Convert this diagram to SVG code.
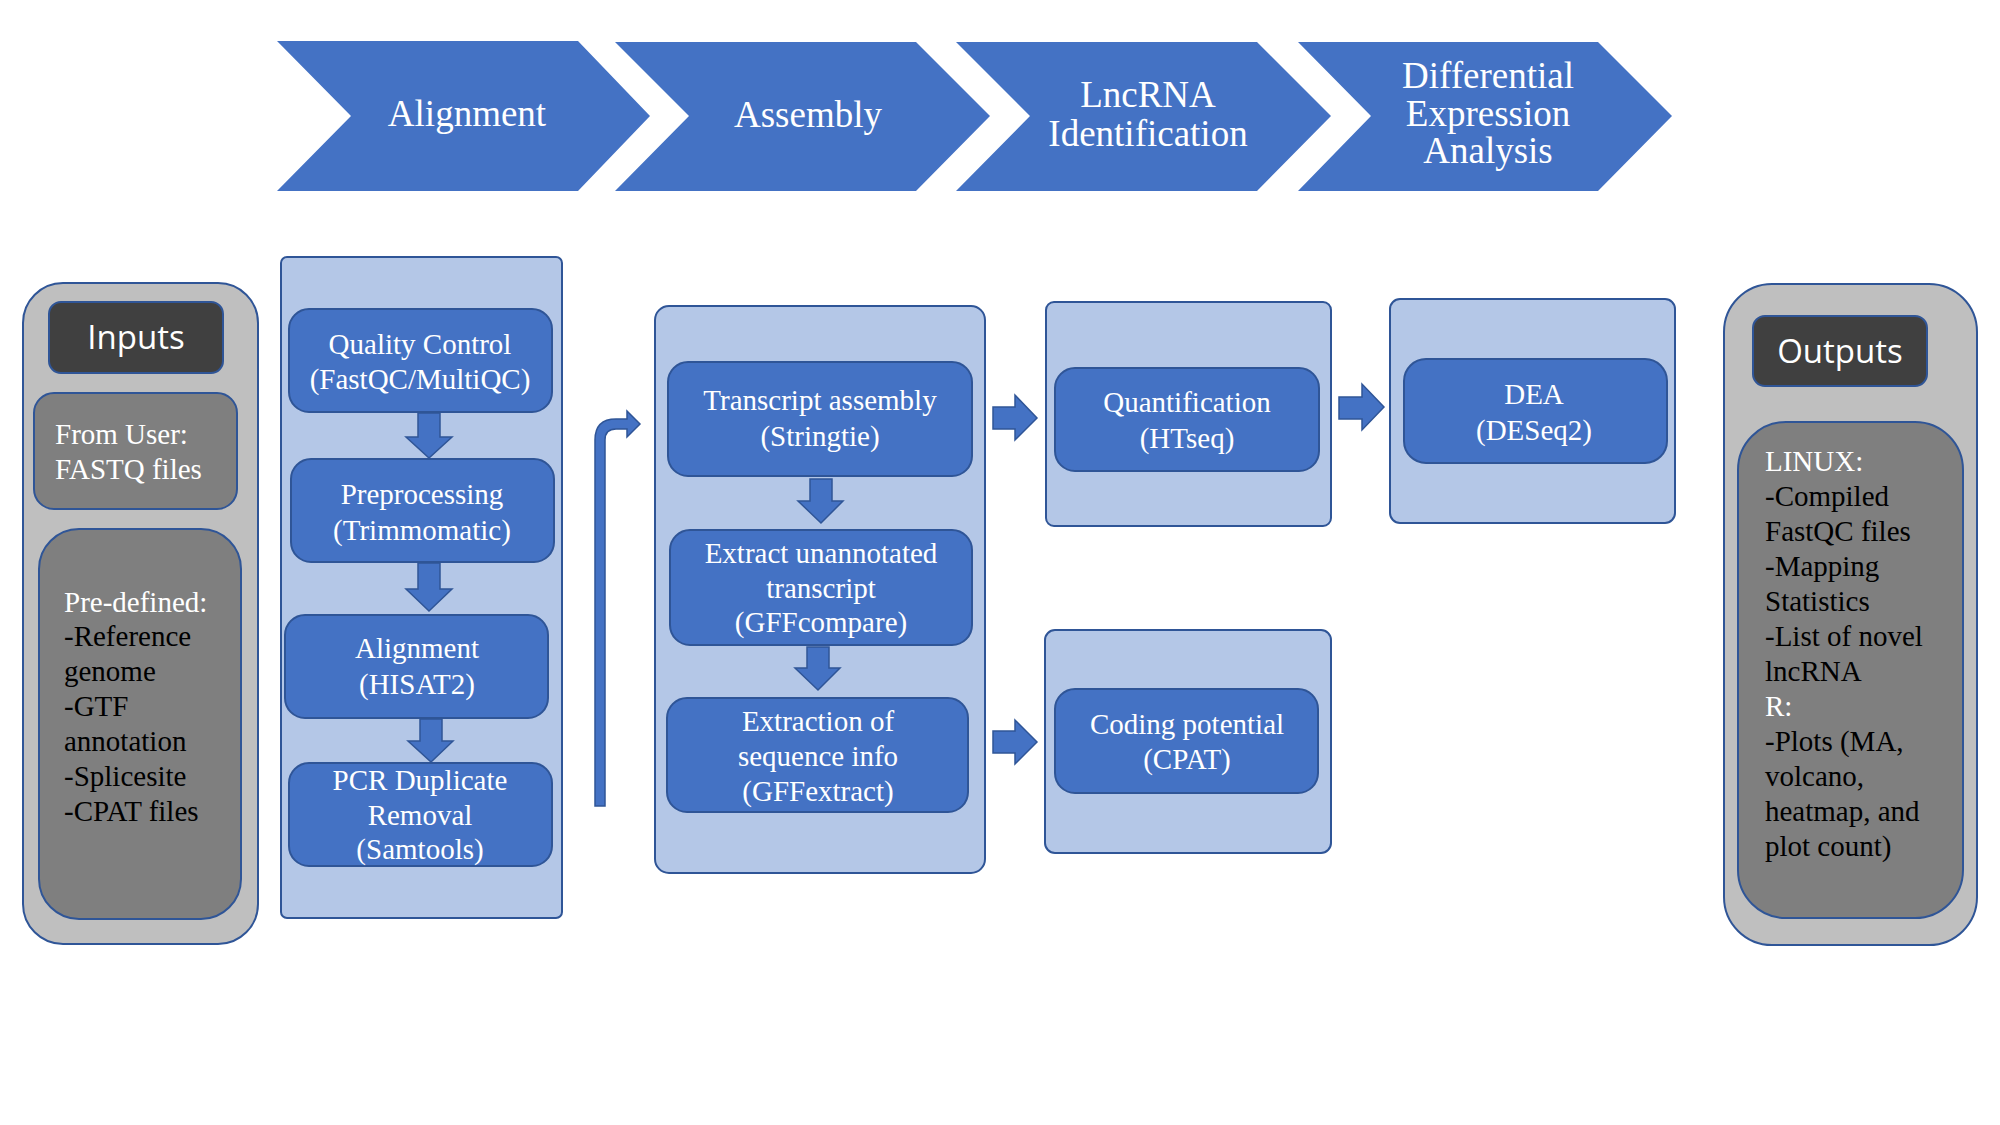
<svg xmlns="http://www.w3.org/2000/svg" width="2000" height="1125" viewBox="0 0 2000 1125">
<style>
.chev{fill:#4472C4;}
.ctext{font-family:"Liberation Serif","Times New Roman",serif;font-size:37px;fill:#fff;text-anchor:middle;}
.cont{fill:#B4C7E7;stroke:#2F5597;stroke-width:2;}
.box{fill:#4472C4;stroke:#2F5597;stroke-width:2;}
.btext{font-family:"Liberation Serif","Times New Roman",serif;font-size:29px;fill:#fff;text-anchor:middle;}
.outer{fill:#BFBFBF;stroke:#2F5597;stroke-width:2;}
.inner{fill:#7F7F7F;stroke:#2F5597;stroke-width:2;}
.head{fill:#404040;stroke:#2F5597;stroke-width:2;}
.htext{font-family:"Open Sans","Noto Sans",sans-serif;font-size:33px;fill:#fff;text-anchor:middle;}
.ltext{font-family:"Liberation Serif","Times New Roman",serif;font-size:29px;fill:#000;}
.w{fill:#fff;}
.arr{fill:#4472C4;stroke:#2F5597;stroke-width:1.5;}
</style>
<rect width="2000" height="1125" fill="#fff"/>
<g id="stage-alignment">
<polygon class="chev" points="277,41 578,41 650,116 578,191 277,191 351,116"/>
<text class="ctext" x="467" y="126">Alignment</text>
</g>
<g id="stage-assembly">
<polygon class="chev" points="615,42 916,42 990,116 916,191 615,191 689,116"/>
<text class="ctext" x="808" y="127">Assembly</text>
</g>
<g id="stage-lncrna">
<polygon class="chev" points="956,42 1257,42 1331,116 1257,191 956,191 1030,116"/>
<text class="ctext" x="1148" y="107">LncRNA</text>
<text class="ctext" x="1148" y="146">Identification</text>
</g>
<g id="stage-dea">
<polygon class="chev" points="1298,42 1598,42 1672,116 1598,191 1298,191 1371,116"/>
<text class="ctext" x="1488" y="88">Differential</text>
<text class="ctext" x="1488" y="126">Expression</text>
<text class="ctext" x="1488" y="163">Analysis</text>
</g>
<g id="inputs">
<rect class="outer" x="23" y="283" width="235" height="661" rx="40"/>
<rect class="head" x="49" y="302" width="174" height="71" rx="12"/>
<text class="htext" x="136" y="349">Inputs</text>
<rect class="inner" x="34" y="393" width="203" height="116" rx="20"/>
<text class="ltext w" x="55" y="444">From User:</text>
<text class="ltext w" x="55" y="479">FASTQ files</text>
<rect class="inner" x="39" y="529" width="202" height="390" rx="40"/>
<text class="ltext w" x="64" y="612">Pre-defined:</text>
<text class="ltext" x="64" y="646">-Reference</text>
<text class="ltext" x="64" y="681">genome</text>
<text class="ltext" x="64" y="716">-GTF</text>
<text class="ltext" x="64" y="751">annotation</text>
<text class="ltext" x="64" y="786">-Splicesite</text>
<text class="ltext" x="64" y="821">-CPAT files</text>
</g>
<g id="alignment-group">
<rect class="cont" x="281" y="257" width="281" height="661" rx="6"/>
</g>
<g id="qc">
<rect class="box" x="289" y="309" width="263" height="103" rx="20"/>
<text class="btext" x="420" y="354">Quality Control</text>
<text class="btext" x="420" y="389">(FastQC/MultiQC)</text>
</g>
<g id="preprocessing">
<rect class="box" x="291" y="459" width="263" height="103" rx="20"/>
<text class="btext" x="422" y="504">Preprocessing</text>
<text class="btext" x="422" y="540">(Trimmomatic)</text>
</g>
<g id="hisat">
<rect class="box" x="285" y="615" width="263" height="103" rx="20"/>
<text class="btext" x="417" y="658">Alignment</text>
<text class="btext" x="417" y="694">(HISAT2)</text>
</g>
<g id="pcr">
<rect class="box" x="289" y="763" width="263" height="103" rx="20"/>
<text class="btext" x="420" y="790">PCR Duplicate</text>
<text class="btext" x="420" y="825">Removal</text>
<text class="btext" x="420" y="859">(Samtools)</text>
</g>
<g id="assembly-group">
<rect class="cont" x="655" y="306" width="330" height="567" rx="14"/>
</g>
<g id="stringtie">
<rect class="box" x="668" y="362" width="304" height="114" rx="20"/>
<text class="btext" x="820" y="410">Transcript assembly</text>
<text class="btext" x="820" y="446">(Stringtie)</text>
</g>
<g id="gffcompare">
<rect class="box" x="670" y="530" width="302" height="115" rx="20"/>
<text class="btext" x="821" y="563">Extract unannotated</text>
<text class="btext" x="821" y="598">transcript</text>
<text class="btext" x="821" y="632">(GFFcompare)</text>
</g>
<g id="gffextract">
<rect class="box" x="667" y="698" width="301" height="114" rx="20"/>
<text class="btext" x="818" y="731">Extraction of</text>
<text class="btext" x="818" y="766">sequence info</text>
<text class="btext" x="818" y="801">(GFFextract)</text>
</g>
<g id="quant-group">
<rect class="cont" x="1046" y="302" width="285" height="224" rx="8"/>
</g>
<g id="htseq">
<rect class="box" x="1055" y="368" width="264" height="103" rx="20"/>
<text class="btext" x="1187" y="412">Quantification</text>
<text class="btext" x="1187" y="448">(HTseq)</text>
</g>
<g id="coding-group">
<rect class="cont" x="1045" y="630" width="286" height="223" rx="10"/>
</g>
<g id="cpat">
<rect class="box" x="1055" y="689" width="263" height="104" rx="20"/>
<text class="btext" x="1187" y="734">Coding potential</text>
<text class="btext" x="1187" y="769">(CPAT)</text>
</g>
<g id="dea-group">
<rect class="cont" x="1390" y="299" width="285" height="224" rx="10"/>
</g>
<g id="deseq">
<rect class="box" x="1404" y="359" width="263" height="104" rx="22"/>
<text class="btext" x="1534" y="404">DEA</text>
<text class="btext" x="1534" y="440">(DESeq2)</text>
</g>
<g id="outputs">
<rect class="outer" x="1724" y="284" width="253" height="661" rx="48"/>
<rect class="head" x="1753" y="316" width="174" height="70" rx="12"/>
<text class="htext" x="1840" y="363">Outputs</text>
<rect class="inner" x="1738" y="422" width="225" height="496" rx="48"/>
<text class="ltext w" x="1765" y="471">LINUX:</text>
<text class="ltext" x="1765" y="506">-Compiled</text>
<text class="ltext" x="1765" y="541">FastQC files</text>
<text class="ltext" x="1765" y="576">-Mapping</text>
<text class="ltext" x="1765" y="611">Statistics</text>
<text class="ltext" x="1765" y="646">-List of novel</text>
<text class="ltext" x="1765" y="681">lncRNA</text>
<text class="ltext w" x="1765" y="716">R:</text>
<text class="ltext" x="1765" y="751">-Plots (MA,</text>
<text class="ltext" x="1765" y="786">volcano,</text>
<text class="ltext" x="1765" y="821">heatmap, and</text>
<text class="ltext" x="1765" y="856">plot count)</text>
</g>
<g id="connectors">
<polygon class="arr" points="418,413 440,413 440,437 452,437 429,458 406,437 418,437"/>
<polygon class="arr" points="418,563 440,563 440,589 452,589 429,611 406,589 418,589"/>
<polygon class="arr" points="420,719 442,719 442,741 453,741 431,762 408,741 420,741"/>
<polygon class="arr" points="810,479 832,479 832,501 843,501 821,523 798,501 810,501"/>
<polygon class="arr" points="807,647 829,647 829,668 840,668 818,690 795,668 807,668"/>
<polygon class="arr" points="993,407 1015,407 1015,395 1037,418 1015,440 1015,429 993,429"/>
<polygon class="arr" points="993,731 1015,731 1015,720 1037,742 1015,764 1015,753 993,753"/>
<polygon class="arr" points="1339,397 1362,397 1362,384 1384,407 1362,430 1362,419 1339,419"/>
<path class="arr" d="M595,806 L595,440 Q595,419 616,419 L627,419 L627,411 L640,424 L627,437 L627,429 L616,429 Q605,429 605,440 L605,806 Z"/>
</g>
</svg>
